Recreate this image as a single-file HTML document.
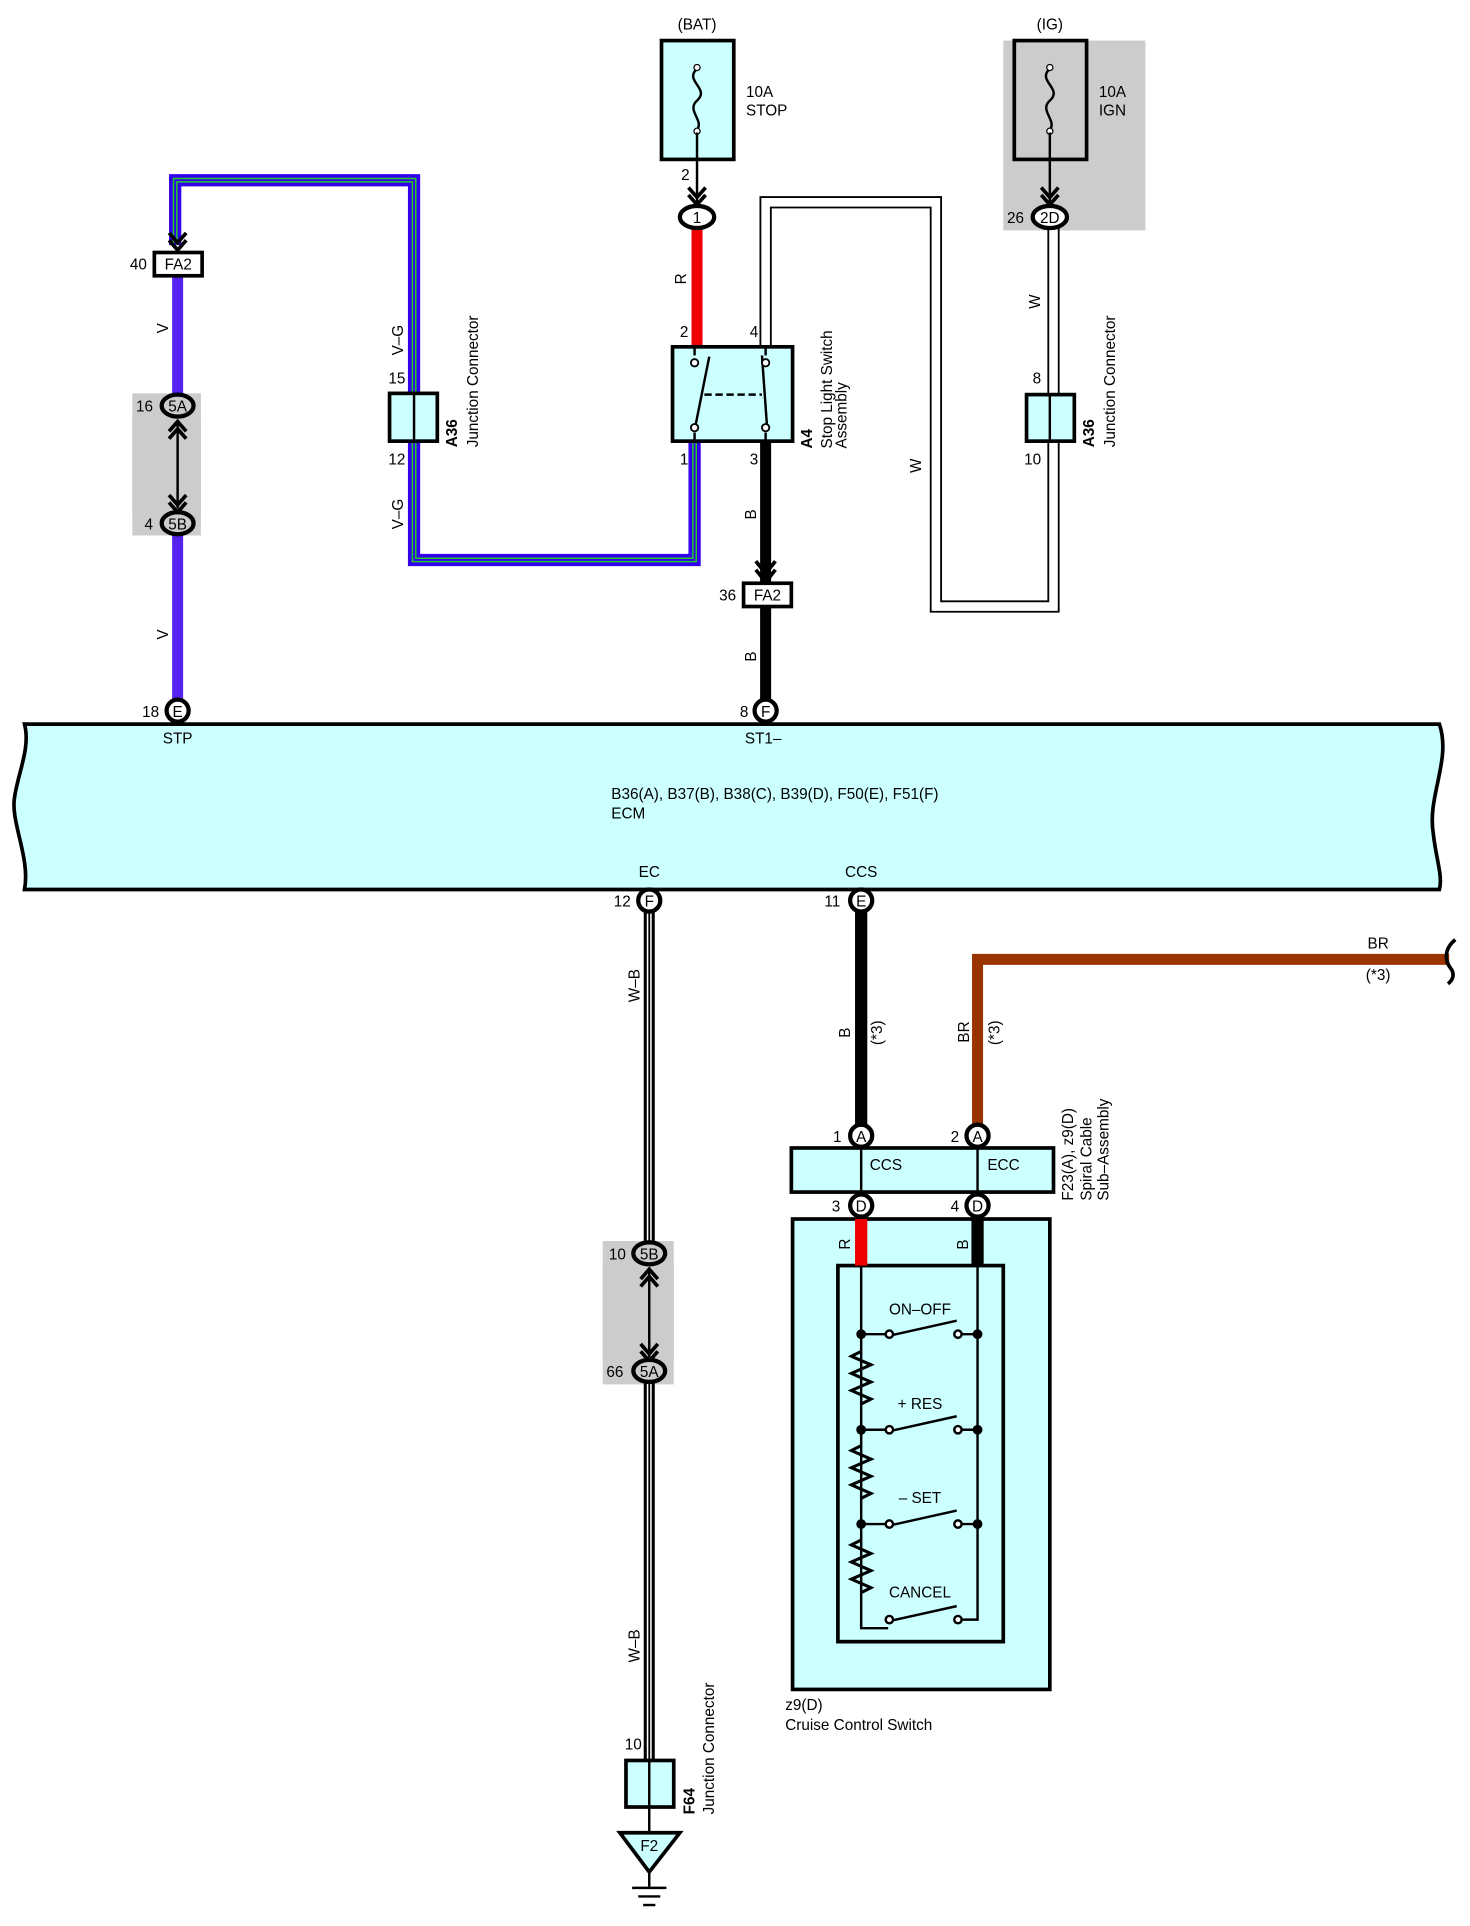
<!DOCTYPE html>
<html><head><meta charset="utf-8"><style>html,body{margin:0;padding:0;background:#fff}svg{display:block}text{font-family:"Liberation Sans",sans-serif;font-size:12.5px;fill:#000}ellipse{stroke-width:3.5}</style></head>
<body>
<svg width="1470" height="1926" viewBox="0 0 1200 1572" xmlns="http://www.w3.org/2000/svg">
<rect width="1200" height="1572" fill="#fff"/>
<rect x="819" y="33" width="116" height="155" fill="#cccccc"/>
<rect x="108" y="321" width="56" height="116" fill="#cccccc"/>
<rect x="492" y="1013" width="58" height="117" fill="#cccccc"/>

<path d="M625 283 V165 H764 V495 H860 V186" fill="none" stroke="#000" stroke-width="10"/>
<path d="M625 283 V165 H764 V495 H860 V186" fill="none" stroke="#fff" stroke-width="7"/>
<path d="M567 360 V457 H338 V147 H143 V200" fill="none" stroke="#3300ee" stroke-width="10"/>
<path d="M567 360 V457 H338 V147 H143 V200" fill="none" stroke="#22cc22" stroke-width="4"/>
<path d="M567 360 V457 H338 V147 H143 V200" fill="none" stroke="#3300ee" stroke-width="1.5"/>
<line x1="145" y1="225" x2="145" y2="572" stroke="#5522ee" stroke-width="9"/>
<rect x="108" y="340" width="56" height="78" fill="#cccccc"/>
<line x1="145" y1="345" x2="145" y2="415" stroke="#000" stroke-width="2"/>
<path d="M138 352 L145 344 L152 352 M138 358 L145 350 L152 358" fill="none" stroke="#000" stroke-width="3"/>
<path d="M138 404 L145 412 L152 404 M138 410 L145 418 L152 410" fill="none" stroke="#000" stroke-width="3"/>
<line x1="569" y1="186" x2="569" y2="283" stroke="#ee0000" stroke-width="9"/>
<line x1="625" y1="360" x2="625" y2="476" stroke="#000" stroke-width="9"/>
<line x1="625" y1="495" x2="625" y2="572" stroke="#000" stroke-width="9"/>
<path d="M617 458 L625 468 L633 458 M617 465 L625 475 L633 465" fill="none" stroke="#000" stroke-width="3"/>
<path d="M138 190 L145 198 L152 190 M138 196 L145 204 L152 196" fill="none" stroke="#000" stroke-width="3"/>

<text x="569" y="24" text-anchor="middle">(BAT)</text>
<rect x="540" y="33" width="59" height="97" fill="#ccffff" stroke="#000" stroke-width="3"/>
<path d="M569 56 C558 66,580 72,569 82 C560 90,575 98,569 106" fill="none" stroke="#000" stroke-width="2"/>
<circle cx="569" cy="55" r="2.5" fill="#fff" stroke="#000"/><circle cx="569" cy="107" r="2.5" fill="#fff" stroke="#000"/>
<line x1="569" y1="108" x2="569" y2="168" stroke="#000" stroke-width="2"/>
<path d="M562 153 L569 161 L576 153 M562 159 L569 167 L576 159" fill="none" stroke="#000" stroke-width="3"/>
<text x="609" y="79">10A</text><text x="609" y="94">STOP</text>
<text x="556" y="147">2</text>
<ellipse cx="569" cy="177" rx="14" ry="9" fill="#fff" stroke="#000"/><text x="569" y="182" text-anchor="middle">1</text>
<text transform="translate(560,232) rotate(-90)">R</text>

<text x="857" y="24" text-anchor="middle">(IG)</text>
<rect x="828" y="33" width="59" height="97" fill="#cccccc" stroke="#000" stroke-width="3"/>
<path d="M857 56 C846 66,868 72,857 82 C848 90,863 98,857 106" fill="none" stroke="#000" stroke-width="2"/>
<circle cx="857" cy="55" r="2.5" fill="#fff" stroke="#000"/><circle cx="857" cy="107" r="2.5" fill="#fff" stroke="#000"/>
<line x1="857" y1="108" x2="857" y2="168" stroke="#000" stroke-width="2"/>
<path d="M850 153 L857 161 L864 153 M850 159 L857 167 L864 159" fill="none" stroke="#000" stroke-width="3"/>
<text x="897" y="79">10A</text><text x="897" y="94">IGN</text>
<text x="822" y="182">26</text>
<ellipse cx="857" cy="177" rx="14" ry="9" fill="#fff" stroke="#000"/><text x="857" y="182" text-anchor="middle">2D</text>
<text transform="translate(849,252) rotate(-90)">W</text>
<text transform="translate(752,386) rotate(-90)">W</text>
<rect x="838" y="322" width="39" height="38" fill="#ccffff" stroke="#000" stroke-width="3"/>
<line x1="857" y1="322" x2="857" y2="360" stroke="#000" stroke-width="2"/>
<text x="843" y="313">8</text><text x="836" y="379">10</text>
<text transform="translate(893,365) rotate(-90)" font-weight="bold">A36</text>
<text transform="translate(910,365) rotate(-90)">Junction Connector</text>

<rect x="318" y="321" width="39" height="39" fill="#ccffff" stroke="#000" stroke-width="3"/>
<line x1="338" y1="321" x2="338" y2="360" stroke="#000" stroke-width="2"/>
<text x="317" y="313">15</text><text x="317" y="379">12</text>
<text transform="translate(329,290) rotate(-90)">V–G</text>
<text transform="translate(329,432) rotate(-90)">V–G</text>
<text transform="translate(373,365) rotate(-90)" font-weight="bold">A36</text>
<text transform="translate(390,365) rotate(-90)">Junction Connector</text>

<rect x="549" y="283" width="98" height="77" fill="#ccffff" stroke="#000" stroke-width="3"/>
<line x1="567" y1="283" x2="567" y2="290" stroke="#000" stroke-width="2"/>
<line x1="567" y1="353" x2="567" y2="360" stroke="#000" stroke-width="2"/>
<line x1="625" y1="283" x2="625" y2="290" stroke="#000" stroke-width="2"/>
<line x1="625" y1="353" x2="625" y2="360" stroke="#000" stroke-width="2"/>
<line x1="568" y1="346" x2="579" y2="291" stroke="#000" stroke-width="2"/>
<line x1="626" y1="346" x2="622" y2="290" stroke="#000" stroke-width="2"/>
<line x1="575" y1="322" x2="622" y2="322" stroke="#000" stroke-width="2" stroke-dasharray="6,3"/>
<circle cx="567" cy="296" r="3" fill="#fff" stroke="#000" stroke-width="1.5"/>
<circle cx="567" cy="349" r="3" fill="#fff" stroke="#000" stroke-width="1.5"/>
<circle cx="625" cy="296" r="3" fill="#fff" stroke="#000" stroke-width="1.5"/>
<circle cx="625" cy="349" r="3" fill="#fff" stroke="#000" stroke-width="1.5"/>
<text x="555" y="275">2</text><text x="612" y="275">4</text>
<text x="555" y="379">1</text><text x="612" y="379">3</text>
<text transform="translate(663,366) rotate(-90)" font-weight="bold">A4</text>
<text transform="translate(679,366) rotate(-90)">Stop Light Switch</text>
<text transform="translate(691,366) rotate(-90)">Assembly</text>
<text transform="translate(617,424) rotate(-90)">B</text>
<text transform="translate(617,540) rotate(-90)">B</text>

<rect x="126" y="206" width="39" height="19" fill="#fff" stroke="#000" stroke-width="3"/><text x="145.5" y="220" text-anchor="middle">FA2</text>
<text x="106" y="220">40</text>
<rect x="607" y="476" width="39" height="19" fill="#fff" stroke="#000" stroke-width="3"/><text x="626.5" y="490" text-anchor="middle">FA2</text>
<text x="587" y="490">36</text>
<text transform="translate(137,272) rotate(-90)">V</text>
<text transform="translate(137,522) rotate(-90)">V</text>
<ellipse cx="145" cy="331" rx="13" ry="9" fill="#ccc" stroke="#000"/><text x="145" y="336" text-anchor="middle">5A</text><text x="111" y="336">16</text>
<ellipse cx="145" cy="427" rx="13" ry="9" fill="#ccc" stroke="#000"/><text x="145" y="432" text-anchor="middle">5B</text><text x="118" y="432">4</text>

<path d="M20 591 H1175 C1185 620,1165 650,1170 680 C1172 700,1178 715,1175 726 H20 C25 700,8 670,12 650 C15 630,25 610,20 591 Z" fill="#ccffff" stroke="#000" stroke-width="3"/>
<ellipse cx="145" cy="580" rx="9" ry="9" fill="#fff" stroke="#000"/><text x="145" y="585" text-anchor="middle" font-size="11">E</text><text x="116" y="585">18</text>
<ellipse cx="625" cy="580" rx="9" ry="9" fill="#fff" stroke="#000"/><text x="625" y="585" text-anchor="middle" font-size="11">F</text><text x="604" y="585">8</text>
<text x="145" y="607" text-anchor="middle">STP</text>
<text x="623" y="607" text-anchor="middle">ST1–</text>
<text x="499" y="652">B36(A), B37(B), B38(C), B39(D), F50(E), F51(F)</text>
<text x="499" y="668">ECM</text>
<text x="530" y="716" text-anchor="middle">EC</text>
<text x="703" y="716" text-anchor="middle">CCS</text>

<line x1="530" y1="744" x2="530" y2="1437" stroke="#000" stroke-width="9"/>
<line x1="530" y1="744" x2="530" y2="1437" stroke="#fff" stroke-width="4"/>
<line x1="530" y1="744" x2="530" y2="1437" stroke="#000" stroke-width="1.5"/>
<rect x="492" y="1032" width="58" height="78" fill="#cccccc"/>
<line x1="530" y1="1035" x2="530" y2="1108" stroke="#000" stroke-width="2"/>
<path d="M523 1044 L530 1036 L537 1044 M523 1050 L530 1042 L537 1050" fill="none" stroke="#000" stroke-width="3"/>
<path d="M523 1097 L530 1105 L537 1097 M523 1103 L530 1111 L537 1103" fill="none" stroke="#000" stroke-width="3"/>
<ellipse cx="530" cy="1023" rx="13" ry="9" fill="#ccc" stroke="#000"/><text x="530" y="1028" text-anchor="middle">5B</text><text x="497" y="1028">10</text>
<ellipse cx="530" cy="1119" rx="13" ry="9" fill="#ccc" stroke="#000"/><text x="530" y="1124" text-anchor="middle">5A</text><text x="495" y="1124">66</text>
<ellipse cx="530" cy="735" rx="9" ry="9" fill="#fff" stroke="#000"/><text x="530" y="740" text-anchor="middle" font-size="11">F</text><text x="501" y="740">12</text>
<text transform="translate(522,818) rotate(-90)">W–B</text>
<text transform="translate(522,1357) rotate(-90)">W–B</text>
<text x="510" y="1428">10</text>
<rect x="511" y="1437" width="39" height="38" fill="#ccffff" stroke="#000" stroke-width="3"/>
<line x1="530" y1="1437" x2="530" y2="1475" stroke="#000" stroke-width="2"/>
<text transform="translate(567,1481) rotate(-90)" font-weight="bold">F64</text>
<text transform="translate(583,1481) rotate(-90)">Junction Connector</text>
<line x1="530" y1="1475" x2="530" y2="1496" stroke="#000" stroke-width="2"/>
<path d="M506 1496 H555 L530 1528 Z" fill="#ccffff" stroke="#000" stroke-width="3"/>
<text x="530" y="1511" text-anchor="middle">F2</text>
<line x1="530" y1="1528" x2="530" y2="1540" stroke="#000" stroke-width="2"/>
<line x1="516" y1="1541" x2="544" y2="1541" stroke="#000" stroke-width="2"/>
<line x1="521" y1="1548" x2="539" y2="1548" stroke="#000" stroke-width="2"/>
<line x1="525" y1="1555" x2="535" y2="1555" stroke="#000" stroke-width="2"/>

<line x1="703" y1="744" x2="703" y2="918" stroke="#000" stroke-width="10"/>
<ellipse cx="703" cy="735" rx="9" ry="9" fill="#fff" stroke="#000"/><text x="703" y="740" text-anchor="middle" font-size="11">E</text><text x="673" y="740">11</text>
<text transform="translate(694,847) rotate(-90)">B</text>
<text transform="translate(720,853) rotate(-90)">(*3)</text>
<path d="M798 918 V783 H1183" fill="none" stroke="#993300" stroke-width="9"/>
<path d="M1188 767 C1178 775,1180 785,1184 790 C1188 795,1186 800,1182 803" fill="none" stroke="#000" stroke-width="3"/>
<text x="1125" y="774" text-anchor="middle">BR</text>
<text x="1125" y="800" text-anchor="middle">(*3)</text>
<text transform="translate(791,851) rotate(-90)">BR</text>
<text transform="translate(816,853) rotate(-90)">(*3)</text>

<rect x="646" y="937" width="214" height="36" fill="#ccffff" stroke="#000" stroke-width="3"/>
<line x1="703" y1="937" x2="703" y2="973" stroke="#000" stroke-width="2"/>
<line x1="798" y1="937" x2="798" y2="973" stroke="#000" stroke-width="2"/>
<text x="710" y="955">CCS</text><text x="806" y="955">ECC</text>
<ellipse cx="703" cy="927" rx="9" ry="9" fill="#fff" stroke="#000"/><text x="703" y="932" text-anchor="middle" font-size="11">A</text><text x="680" y="932">1</text>
<ellipse cx="798" cy="927" rx="9" ry="9" fill="#fff" stroke="#000"/><text x="798" y="932" text-anchor="middle" font-size="11">A</text><text x="776" y="932">2</text>
<text transform="translate(876,980) rotate(-90)" font-size="14">F23(A), z9(D)</text>
<text transform="translate(891,980) rotate(-90)">Spiral Cable</text>
<text transform="translate(905,980) rotate(-90)">Sub–Assembly</text>

<rect x="647" y="995" width="210" height="384" fill="#ccffff" stroke="#000" stroke-width="3"/>
<rect x="684" y="1033" width="135" height="307" fill="#ccffff" stroke="#000" stroke-width="3"/>
<line x1="703" y1="995" x2="703" y2="1033" stroke="#ee0000" stroke-width="10"/>
<line x1="798" y1="995" x2="798" y2="1033" stroke="#000" stroke-width="10"/>
<ellipse cx="703" cy="984" rx="9" ry="9" fill="#fff" stroke="#000"/><text x="703" y="989" text-anchor="middle" font-size="11">D</text><text x="679" y="989">3</text>
<ellipse cx="798" cy="984" rx="9" ry="9" fill="#fff" stroke="#000"/><text x="798" y="989" text-anchor="middle" font-size="11">D</text><text x="776" y="989">4</text>
<text transform="translate(694,1020) rotate(-90)">R</text>
<text transform="translate(790,1020) rotate(-90)">B</text>
<path d="M703 1033 V1329 H725 M798 1033 V1322 H783" fill="none" stroke="#000" stroke-width="2"/>
<g fill="none" stroke="#000" stroke-width="2.5">
<path d="M703 1103 L695 1107 L711 1114 L695 1121 L711 1128 L695 1135 L711 1142 L703 1146"/>
<path d="M703 1180 L695 1184 L711 1191 L695 1198 L711 1205 L695 1212 L711 1219 L703 1223"/>
<path d="M703 1257 L695 1261 L711 1268 L695 1275 L711 1282 L695 1289 L711 1296 L703 1300"/>
</g>
<g fill="none" stroke="#000" stroke-width="2">
<path d="M703 1089 H725 M783 1089 H798 M727 1090 L781 1078"/>
<path d="M703 1167 H725 M783 1167 H798 M727 1168 L781 1156"/>
<path d="M703 1244 H725 M783 1244 H798 M727 1245 L781 1233"/>
<path d="M727 1323 L781 1311"/>
</g>
<g fill="#000">
<circle cx="703" cy="1089" r="4"/><circle cx="798" cy="1089" r="4"/>
<circle cx="703" cy="1167" r="4"/><circle cx="798" cy="1167" r="4"/>
<circle cx="703" cy="1244" r="4"/><circle cx="798" cy="1244" r="4"/>
</g>
<g fill="#fff" stroke="#000" stroke-width="2">
<circle cx="726" cy="1089" r="3"/><circle cx="782" cy="1089" r="3"/>
<circle cx="726" cy="1167" r="3"/><circle cx="782" cy="1167" r="3"/>
<circle cx="726" cy="1244" r="3"/><circle cx="782" cy="1244" r="3"/>
<circle cx="726" cy="1322" r="3"/><circle cx="782" cy="1322" r="3"/>
</g>
<text x="751" y="1073" text-anchor="middle">ON–OFF</text>
<text x="751" y="1150" text-anchor="middle">+ RES</text>
<text x="751" y="1227" text-anchor="middle">– SET</text>
<text x="751" y="1304" text-anchor="middle">CANCEL</text>
<text x="641" y="1396">z9(D)</text>
<text x="641" y="1412">Cruise Control Switch</text>
</svg>
</body></html>
